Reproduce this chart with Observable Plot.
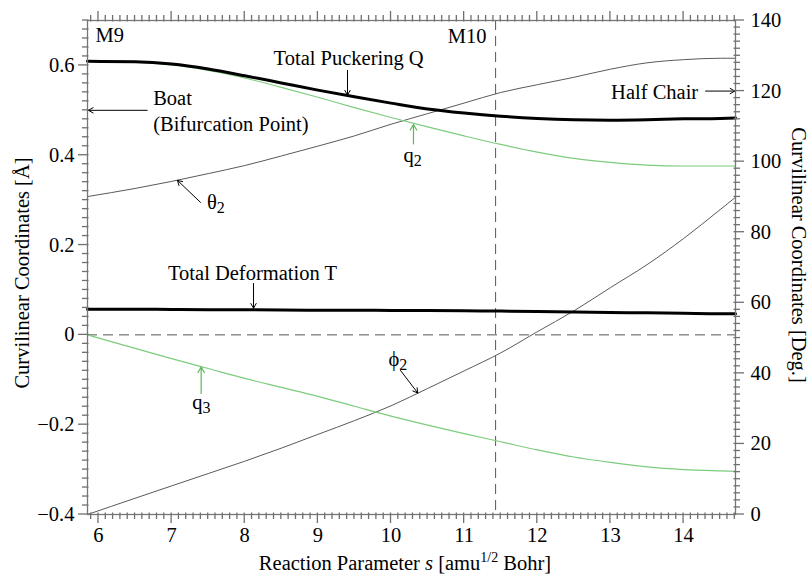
<!DOCTYPE html>
<html>
<head>
<meta charset="utf-8">
<script src="https://cdn.jsdelivr.net/npm/d3@7"></script>
<script src="https://cdn.jsdelivr.net/npm/@observablehq/plot@0.6"></script>
<style>
  body { margin: 0; background: #fff; }
  svg { display: block; }
</style>
</head>
<body>
<div id="chart"></div>
<script>
// ---- Data ----
const s       = [5.85, 6.5, 7, 7.5, 8, 8.5, 9, 9.5, 10, 10.5, 11, 11.5, 12, 12.5, 13, 13.5, 14, 14.5, 14.71];
// left axis, Angstrom
const Q       = [0.609, 0.608, 0.603, 0.592, 0.577, 0.561, 0.545, 0.530, 0.516, 0.503, 0.494, 0.487, 0.482, 0.479, 0.478, 0.479, 0.481, 0.482, 0.483];
const q2      = [0.609, 0.607, 0.601, 0.589, 0.572, 0.551, 0.529, 0.506, 0.484, 0.463, 0.443, 0.424, 0.407, 0.393, 0.384, 0.378, 0.376, 0.376, 0.376];
const T       = [0.057, 0.057, 0.0565, 0.056, 0.056, 0.0555, 0.055, 0.055, 0.0545, 0.054, 0.0535, 0.053, 0.052, 0.051, 0.050, 0.049, 0.048, 0.047, 0.047];
const q3      = [0, -0.030, -0.053, -0.075, -0.097, -0.117, -0.137, -0.159, -0.181, -0.201, -0.220, -0.238, -0.256, -0.272, -0.284, -0.294, -0.300, -0.303, -0.304];
// right axis, degrees
const theta2  = [90.1, 92.4, 94.4, 96.6, 98.9, 101.6, 104.4, 107.3, 110.6, 113.6, 116.6, 119.6, 121.8, 123.9, 126.2, 128.0, 128.9, 129.3, 129.3];
const phi2    = [0, 4.6, 8.1, 11.6, 15.1, 18.8, 22.7, 26.6, 30.8, 35.7, 40.7, 45.8, 51.8, 57.7, 64.3, 70.8, 78.2, 86.4, 89.9];

const xDomain   = [5.85, 14.71];
const yDomain   = [-0.4, 0.7];
const degDomain = [0, 140];
const xTicks    = [6, 7, 8, 9, 10, 11, 12, 13, 14];
const yTicks    = [-0.4, -0.2, 0, 0.2, 0.4, 0.6];
const degTicks  = [0, 20, 40, 60, 80, 100, 120, 140];
const M10 = 11.43;

// degree -> left-axis value (shared y scale)
const deg2y = d => yDomain[0] + (d - degDomain[0]) * (yDomain[1] - yDomain[0]) / (degDomain[1] - degDomain[0]);
const y2deg = y => degDomain[0] + (y - yDomain[0]) * (degDomain[1] - degDomain[0]) / (yDomain[1] - yDomain[0]);

const series = (arr, conv = v => v) => s.map((x, i) => ({x, y: conv(arr[i])}));

// annotation texts
const labelsStart = [
  {text: "M9", x: 5.96, y: 0.652},
  {text: "Boat", x: 6.748, y: 0.511},
  {text: "(Bifurcation Point)", x: 6.748, y: 0.455}
];
const labelsEnd = [
  {text: "M10", x: 11.305, y: 0.650},
  {text: "Half Chair", x: 14.20, y: 0.526}
];
const labelsMiddle = [
  {text: "Total Puckering Q", x: 9.42, y: 0.600},
  {text: "Total Deformation T", x: 8.106, y: 0.1227}
];
const symbols = [
  {base: "θ", sub: "2", x: 7.484, y: 0.2807},
  {base: "q", sub: "2", x: 10.17, y: 0.386},
  {base: "q", sub: "3", x: 7.281, y: -0.1646},
  {base: "ϕ", sub: "2", x: 9.965, y: -0.0704}
];
const blackArrows = [
  {x1: 9.405, y1: 0.589, x2: 9.405, y2: 0.534},
  {x1: 6.666, y1: 0.5, x2: 5.864, y2: 0.5},
  {x1: 14.30, y1: deg2y(120), x2: 14.70, y2: deg2y(120)},
  {x1: 7.395, y1: 0.295, x2: 7.08, y2: 0.344},
  {x1: 8.12, y1: 0.1145, x2: 8.12, y2: 0.0595},
  {x1: 10.13, y1: -0.0793, x2: 10.366, y2: -0.1295}
];
const greenArrows = [
  {x1: 10.307, y1: 0.4255, x2: 10.307, y2: 0.4685},
  {x1: 7.404, y1: -0.1305, x2: 7.404, y2: -0.0715}
];

const axisGray = "#777";
const tickColor = "#707070";
const lineGray = "#5a5a5a";
const green = "#7dcc7d";
const greenArrow = "#5cb85c";
const FONT = "'Liberation Serif', 'Times New Roman', serif";
const FS = 20.5;

const yFmt = d => d === 0 ? "0" : d3.format(".1f")(d);

const xMinor = d3.range(59, 148).map(v => v / 10).filter(v => !xTicks.includes(v));
const yMinor = d3.range(-20, 36).map(v => v / 50).filter(v => !yTicks.some(t => Math.abs(t - v) < 1e-9));
const degMinor = d3.range(0, 71).filter(v => (v * 2) % 20 !== 0).map(v => deg2y(v * 2));
const degMajor = degTicks.map(deg2y);

const MAJ = 9, MIN = 5;

const plot = Plot.plot({
  width: 811,
  height: 575,
  marginLeft: 87,
  marginRight: 76,
  marginTop: 20,
  marginBottom: 61,
  x: {domain: xDomain},
  y: {domain: yDomain},
  style: {fontFamily: FONT, fontSize: FS + "px", background: "white", color: "black"},
  marks: [
    Plot.ruleY([0], {stroke: "#555", strokeDasharray: "10,6", strokeWidth: 1}),
    Plot.ruleX([M10], {stroke: "#555", strokeDasharray: "10,6", strokeWidth: 1}),
    Plot.line(series(theta2, deg2y), {x: "x", y: "y", stroke: lineGray, strokeWidth: 1, curve: "monotone-x"}),
    Plot.line(series(phi2, deg2y), {x: "x", y: "y", stroke: lineGray, strokeWidth: 1, curve: "monotone-x"}),
    Plot.line(series(q2), {x: "x", y: "y", stroke: green, strokeWidth: 1.2, curve: "monotone-x"}),
    Plot.line(series(q3), {x: "x", y: "y", stroke: green, strokeWidth: 1.2, curve: "monotone-x"}),
    Plot.line(series(Q), {x: "x", y: "y", stroke: "black", strokeWidth: 3, curve: "monotone-x"}),
    Plot.line(series(T), {x: "x", y: "y", stroke: "black", strokeWidth: 3, curve: "monotone-x"}),
    Plot.frame({stroke: axisGray, strokeWidth: 1.3}),
    // tick labels
    Plot.axisX(xTicks, {anchor: "bottom", tickSize: 0, tickPadding: MAJ + 4, fill: "black", label: null, fontSize: FS}),
    Plot.axisY(yTicks, {anchor: "left", tickSize: 0, tickPadding: MAJ + 4, fill: "black", tickFormat: yFmt, label: null, fontSize: FS}),
    Plot.axisY(degMajor, {anchor: "right", tickSize: 0, tickPadding: MAJ + 6, fill: "black", tickFormat: y => String(Math.round(y2deg(y))), label: null, fontSize: FS}),
    // annotations
    Plot.arrow(blackArrows, {x1: "x1", y1: "y1", x2: "x2", y2: "y2", stroke: "black", strokeWidth: 1, headLength: 8}),
    Plot.arrow(greenArrows, {x1: "x1", y1: "y1", x2: "x2", y2: "y2", stroke: greenArrow, strokeWidth: 1.2, headLength: 8}),
    Plot.text(labelsStart, {x: "x", y: "y", text: "text", textAnchor: "start", lineAnchor: "bottom", fontSize: FS, fill: "black"}),
    Plot.text(labelsEnd, {x: "x", y: "y", text: "text", textAnchor: "end", lineAnchor: "bottom", fontSize: FS, fill: "black"}),
    Plot.text(labelsMiddle, {x: "x", y: "y", text: "text", textAnchor: "middle", lineAnchor: "bottom", fontSize: FS, fill: "black"}),
    Plot.text(symbols, {x: "x", y: "y", text: "base", textAnchor: "start", lineAnchor: "bottom", fontSize: FS, fill: "black"})
  ]
});

document.getElementById("chart").appendChild(plot);

const svg = d3.select(plot);
const xScale = plot.scale("x");
const yScale = plot.scale("y");
const X = v => xScale.apply(v);
const Y = v => yScale.apply(v);
const [xL, xR] = xScale.range;
const [yB, yT] = yScale.range;

// subscripts on the symbol labels
const bases = symbols.map(d => d.base);
let k = 0;
svg.selectAll("text").filter(function () { return bases.includes(this.textContent); }).each(function () {
  const d = symbols[k++];
  if (d) d3.select(this).append("tspan").attr("dy", 4).attr("font-size", 16).text(d.sub);
});

// axis ticks: mostly outward, overlapping the frame line slightly, drawn as thin rects with Plot's scales
const tg = svg.append("g").attr("fill", tickColor);
const TW = 1.3, IN = 1.5;
const addX = (vals, y0, len) => vals.forEach(v => {
  const x = X(v);
  const y1 = len > 0 ? y0 - IN : y0 + len;
  tg.append("rect").attr("x", x - TW / 2).attr("y", y1).attr("width", TW).attr("height", Math.abs(len) + IN);
});
const addY = (vals, x0, len) => vals.forEach(v => {
  const y = Y(v);
  const x1 = len > 0 ? x0 - IN : x0 + len;
  tg.append("rect").attr("y", y - TW / 2).attr("x", x1).attr("height", TW).attr("width", Math.abs(len) + IN);
});
addX(xTicks, yB, MAJ); addX(xMinor, yB, MIN);
addX(xTicks, yT, -MAJ); addX(xMinor, yT, -MIN);
addY(yTicks, xL, -MAJ); addY(yMinor, xL, -MIN);
addY(degMajor, xR, MAJ); addY(degMinor, xR, MIN);

// axis titles (real text)
const xMid = (xL + xR) / 2;
const yMid = (yB + yT) / 2;

const xl = svg.append("text")
  .attr("x", xMid - 6).attr("y", 570)
  .attr("text-anchor", "middle").attr("font-family", FONT).attr("font-size", FS).attr("fill", "black");
xl.append("tspan").text("Reaction Parameter ");
xl.append("tspan").attr("font-style", "italic").text("s");
xl.append("tspan").text(" [amu");
xl.append("tspan").attr("font-size", 14).attr("dy", -8).text("1/2");
xl.append("tspan").attr("dy", 8).text(" Bohr]");

svg.append("text")
  .attr("transform", `translate(29,${yMid + 6}) rotate(-90)`)
  .attr("text-anchor", "middle").attr("font-family", FONT).attr("font-size", FS).attr("fill", "black")
  .text("Curvilinear Coordinates [Å]");

svg.append("text")
  .attr("transform", `translate(792,${yMid - 12}) rotate(90)`)
  .attr("text-anchor", "middle").attr("font-family", FONT).attr("font-size", FS).attr("fill", "black")
  .text("Curvilinear Coordinates [Deg.]");
</script>
</body>
</html>
